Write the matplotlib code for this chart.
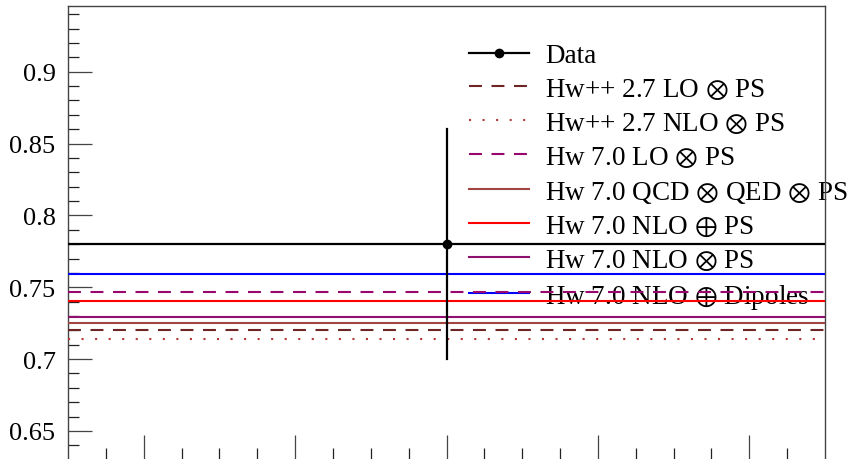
import matplotlib
matplotlib.use('Agg')
import matplotlib.pyplot as plt
import numpy as np

plt.rcParams['font.family'] = ['Liberation Serif', 'DejaVu Serif']
plt.rcParams['mathtext.fontset'] = 'stix'

# single bin, x range
bin_lo = -0.5
bin_hi = 0.5
data_x = 0.0
data_y = 0.78
data_err = 0.08

# MC predictions (flat across the bin)
mc_labels = [r'Hw++ 2.7 LO $\otimes$ PS',
             r'Hw++ 2.7 NLO $\otimes$ PS',
             r'Hw 7.0 LO $\otimes$ PS',
             r'Hw 7.0 QCD $\otimes$ QED $\otimes$ PS',
             r'Hw 7.0 NLO $\oplus$ PS',
             r'Hw 7.0 NLO $\otimes$ PS',
             r'Hw 7.0 NLO $\oplus$ Dipoles']
mc_values = [0.720, 0.714, 0.747, 0.725, 0.7405, 0.729, 0.759]
mc_colors = ['#6e2424', '#b03a3a', '#99066e', '#a34540', '#ff0000', '#8f0f6e', '#0000ff']
mc_styles = [(0, (6.2, 4.6)), (0, (1, 5.5)), (0, (6.2, 4.6)), '-', '-', '-', '-']

fig = plt.figure(figsize=(8.51, 4.60), dpi=100)
ax = fig.add_axes([68/851, 0.0, (825-68)/851, 1 - 6.7/460])

handles = []
# data line with point and error bar
ax.plot([bin_lo, bin_hi], [data_y, data_y], color='k', lw=1.6, zorder=5)
ax.plot([data_x, data_x], [data_y - data_err, data_y + data_err], color='k', lw=1.6, zorder=5)
ax.plot([data_x], [data_y], 'o', color='k', ms=6, zorder=6)
h_leg_data, = ax.plot([], [], '-o', color='k', lw=1.6, ms=6)
handles.append(h_leg_data)

for lab, val, col, ls in zip(mc_labels, mc_values, mc_colors, mc_styles):
    h, = ax.plot([bin_lo, bin_hi], [val, val], color=col, ls=ls, lw=1.5, zorder=4)
    handles.append(h)

ax.set_xlim(bin_lo, bin_hi)
ax.set_ylim(0.6305, 0.9459)

ax.set_yticks([0.65, 0.7, 0.75, 0.8, 0.85, 0.9])
ax.set_yticklabels(['0.65', '0.7', '0.75', '0.8', '0.85', '0.9'])
ax.set_yticks(np.arange(0.64, 0.95, 0.01), minor=True)
ax.set_xticks([-0.4, -0.2, 0.0, 0.2, 0.4])
ax.set_xticks(np.arange(-0.45, 0.5, 0.05), minor=True)
ax.set_xticklabels([])
ax.tick_params(axis='both', which='major', direction='in', length=17, width=0.9, color='#444444', labelsize=19, pad=9)
ax.tick_params(axis='both', which='minor', direction='in', length=8, width=0.9, color='#222222')
ax.tick_params(top=False, right=False, which='both')
ax.spines['bottom'].set_visible(False)
for s in ['left', 'top', 'right']:
    ax.spines[s].set_linewidth(1.0)
    ax.spines[s].set_color('#444444')

leg = ax.legend(handles, ['Data'] + mc_labels, loc='upper left',
                bbox_to_anchor=(469/851, 1 - 44/460), bbox_transform=fig.transFigure,
                frameon=False, fontsize=19.5, handlelength=2.2, handletextpad=0.6,
                labelspacing=0.33, borderaxespad=0, borderpad=0)
leg.set_zorder(1)

fig.savefig('out.png', dpi=100)
